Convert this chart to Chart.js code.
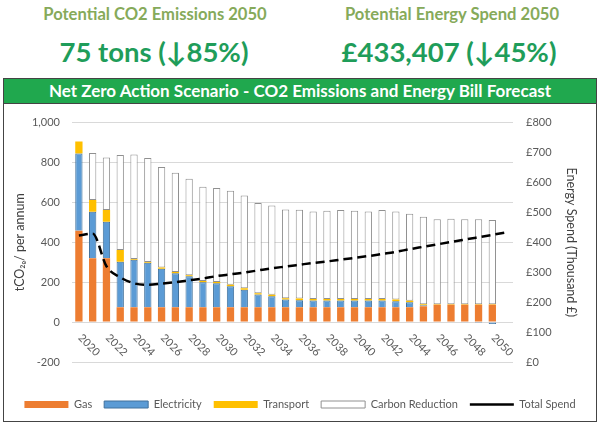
<!DOCTYPE html>
<html>
<head>
<meta charset="utf-8">
<script src="https://cdn.jsdelivr.net/npm/chart.js@4.4.1/dist/chart.umd.min.js"></script>
<style>
  body { margin: 0; width: 602px; height: 430px; background: #fff; position: relative; overflow: hidden; font-family: Lato, "DejaVu Sans", sans-serif; }
  .kpi { position: absolute; width: 300px; text-align: center; font-weight: bold; line-height: 1; white-space: nowrap; }
  .kpi-label { color: #86aa5a; font-size: 16.6px; top: 6px; }
  .kpi-value { color: #1f9d5a; font-size: 27.5px; top: 38px; }
  #frame { position: absolute; left: 3px; top: 78px; width: 592px; height: 342px; border: 1.5px solid #444; }
  #banner { position: absolute; left: 0; top: 0; width: 592px; height: 24px; line-height: 24px; background: #20a84e; border-bottom: 1.5px solid #444;
            color: #fff; font-weight: bold; font-size: 17px; text-align: center; white-space: nowrap; }
  #chartBox { position: absolute; left: 4px; top: 103px; width: 592px; height: 318px; }
</style>
</head>
<body>
  <div class="kpi kpi-label" style="left:5px">Potential CO2 Emissions 2050</div>
  <div class="kpi kpi-value" style="left:4px">75 tons (↓85%)</div>
  <div class="kpi kpi-label" style="left:302px">Potential Energy Spend 2050</div>
  <div class="kpi kpi-value" style="left:299px">£433,407 (↓45%)</div>
  <div id="frame">
    <div id="banner">Net Zero Action Scenario - CO2 Emissions and Energy Bill Forecast</div>
  </div>
  <div id="chartBox"><canvas id="forecastChart"></canvas></div>

<script>
// categories (last one is an empty slot, the spend line runs into it)
const years = ["2020","2021","2022","2023","2024","2025","2026","2027","2028","2029",
  "2030","2031","2032","2033","2034","2035","2036","2037","2038","2039",
  "2040","2041","2042","2043","2044","2045","2046","2047","2048","2049",
  "2050","2051"];
const xTickLabels = ["2020","2022","2024","2026","2028","2030","2032","2034",
  "2036","2038","2040","2042","2044","2046","2048","2050"];

// tCO2e per annum
const gas = [458,320,320,75,75,75,75,75,75,75,
  75,75,75,75,75,75,75,75,75,75,
  75,75,75,75,75,80,87,87,87,87,
  87,null];
const electricity = [387,233,183,228,237,222,192,170,155,125,
  120,105,87,63,55,38,35,33,33,33,
  33,33,33,30,25,5,0,0,-3,-4,
  -10,null];
const transport = [60,59,59,59,4,4,7,6,5,6,
  6,7,8,7,7,7,8,8,8,8,
  8,8,8,8,7,5,2,2,2,2,
  2,null];
const carbonReduction = [null,236,263,476,524,521,504,497,483,472,
  471,471,465,452,448,445,445,439,442,446,
  442,439,446,442,436,438,426,429,426,426,
  423,null];

// thousand £
const totalSpend = [423,429,320,283,263,258,262,267,273,279,
  287,293,299,306,313,319,325,331,336,342,
  348,354,361,368,377,385,393,401,409,417,
  425,433];

const co2Ticks = [-200, 0, 200, 400, 600, 800, 1000];
const spendTicks = [0, 100, 200, 300, 400, 500, 600, 700, 800];

const GREY = "#595959";
const FONT = "Lato";

// year labels are drawn slanted downwards, just under the zero line
const yearLabels = {
  id: "yearLabels",
  afterDraw(chart) {
    const { ctx, scales: { x, y } } = chart;
    const y0 = y.getPixelForValue(0);
    ctx.save();
    ctx.font = "11px " + FONT;
    ctx.fillStyle = GREY;
    ctx.textBaseline = "middle";
    ctx.textAlign = "left";
    years.forEach((yr, i) => {
      if (!xTickLabels.includes(yr)) return;
      ctx.save();
      ctx.translate(x.getPixelForValue(i) + 1, y0 + 14);
      ctx.rotate(Math.PI / 4);
      ctx.fillText(yr, 0, 0);
      ctx.restore();
    });
    ctx.restore();
  }
};

const barOpts = { yAxisID: "y", stack: "co2", order: 1, pointStyle: "rect", barPercentage: 0.53, categoryPercentage: 1 };

new Chart(document.getElementById("forecastChart"), {
  type: "bar",
  data: {
    labels: years,
    datasets: [
      { ...barOpts, label: "Gas", data: gas, backgroundColor: "#ed7d31", borderWidth: 0 },
      { ...barOpts, label: "Electricity", data: electricity, backgroundColor: "#5b9bd5", borderColor: "#41719c", borderWidth: 1 },
      { ...barOpts, label: "Transport", data: transport, backgroundColor: "#ffc000", borderWidth: 0 },
      { ...barOpts, label: "Carbon Reduction", data: carbonReduction, backgroundColor: "#ffffff", borderColor: "#909090", borderWidth: 1, borderSkipped: false },
      {
        type: "line", label: "Total Spend", data: totalSpend, yAxisID: "y1", order: 0,
        borderColor: "#000", backgroundColor: "#000", borderWidth: 2.5, borderDash: [9, 5],
        pointRadius: 0, pointStyle: "line", cubicInterpolationMode: "monotone"
      }
    ]
  },
  options: {
    responsive: true,
    maintainAspectRatio: false,
    animation: false,
    layout: { padding: { top: 18, left: 0, right: 0, bottom: 1 } },
    plugins: {
      tooltip: { enabled: false },
      legend: {
        position: "bottom",
        labels: {
          usePointStyle: true,
          pointStyleWidth: 44,
          boxHeight: 7,
          padding: 12,
          color: GREY,
          font: { family: FONT, size: 11 },
          sort: (a, b) => a.datasetIndex - b.datasetIndex
        }
      }
    },
    scales: {
      x: {
        stacked: true,
        grid: { display: false },
        border: { display: false },
        ticks: { display: false },
        afterFit(scale) {
          const lg = scale.chart.legend;
          scale.height = Math.max(0, 58 - (lg ? lg.height : 0));
        }
      },
      y: {
        position: "left",
        stacked: true,
        min: co2Ticks[0],
        max: co2Ticks[co2Ticks.length - 1],
        ticks: {
          stepSize: 200, color: GREY, padding: 12,
          font: { family: FONT, size: 11 },
          callback: v => v.toLocaleString("en-GB")
        },
        grid: { color: "#d9d9d9", drawTicks: false },
        border: { display: false },
        title: { display: true, text: "tCO₂ₑ/ per annum", color: "#404040", font: { family: FONT, size: 12.5 }, padding: { top: 8, bottom: 0 } },
        afterFit(scale) { scale.width = 68; }
      },
      y1: {
        position: "right",
        min: spendTicks[0],
        max: spendTicks[spendTicks.length - 1],
        ticks: {
          stepSize: 100, color: GREY, padding: 13,
          font: { family: FONT, size: 11 },
          callback: v => "£" + v
        },
        grid: { display: false, drawTicks: false },
        border: { display: false },
        title: { display: true, text: "Energy Spend (Thousand £)", color: "#404040", font: { family: FONT, size: 12.5 }, padding: { top: 17, bottom: 0 } },
        afterFit(scale) { scale.width = 83; }
      }
    }
  },
  plugins: [yearLabels]
});
</script>
</body>
</html>
